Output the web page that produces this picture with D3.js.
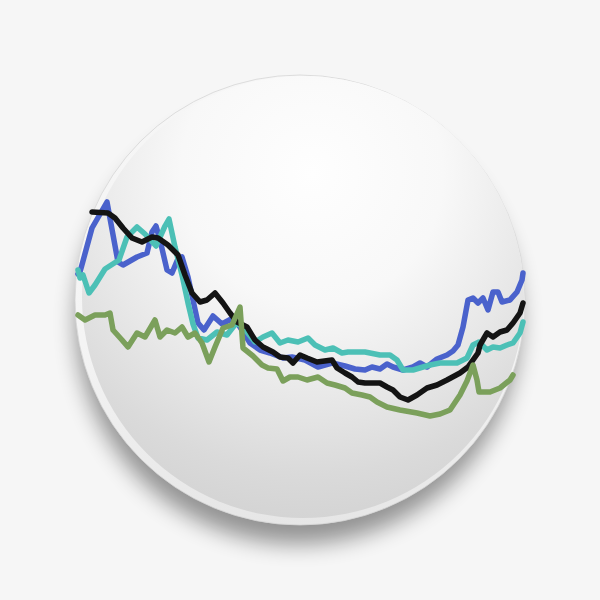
<!DOCTYPE html>
<html><head><meta charset="utf-8">
<script src="https://cdn.jsdelivr.net/npm/d3@7"></script>
<style>html,body{margin:0;padding:0;background:#f5f5f5;}svg{display:block;}</style>
</head><body>
<script>
// series values: [time, value]
const blue = [[0,156],[2,158],[14,202],[29,228],[40,168],[45,165],[59,173],[69,177],[74,198],[78,204],[82,190],[89,160],[94,157],[99,169],[104,173],[110,153],[115,130],[120,107],[126,100],[135,114],[144,106],[155,112],[162,103],[172,87],[182,80],[192,77],[205,72],[214,73],[227,70],[240,63],[254,67],[267,64],[277,61],[287,60],[294,63],[302,61],[309,66],[315,63],[325,60],[335,63],[342,67],[349,63],[359,71],[369,75],[375,79],[380,85],[385,103],[390,130],[395,132],[400,127],[405,132],[410,120],[415,138],[420,138],[424,128],[432,130],[439,138],[444,150],[445,157]];
const cyan = [[0,160],[2,152],[5,155],[11,137],[17,145],[27,161],[41,170],[49,193],[59,203],[67,196],[78,184],[87,204],[91,211],[97,183],[104,155],[110,127],[115,106],[120,92],[129,90],[139,98],[149,95],[159,108],[169,98],[177,88],[185,93],[194,97],[202,87],[210,90],[220,88],[230,92],[237,85],[247,80],[255,82],[264,77],[270,78],[287,78],[302,75],[312,75],[319,70],[325,60],[335,60],[345,63],[352,65],[362,67],[379,67],[389,72],[395,85],[401,88],[409,80],[415,83],[422,82],[429,85],[435,87],[442,97],[445,108]];
const black = [[14,218],[30,217],[37,212],[45,202],[54,192],[64,188],[74,193],[80,192],[90,185],[100,175],[107,155],[114,137],[122,128],[129,130],[137,137],[145,127],[152,117],[159,108],[169,103],[177,90],[185,83],[195,78],[202,73],[210,72],[215,67],[222,75],[229,72],[239,68],[254,70],[259,62],[267,57],[274,53],[280,48],[287,47],[302,47],[309,43],[315,40],[322,33],[330,30],[339,35],[349,42],[359,45],[369,50],[382,57],[390,63],[395,70],[400,77],[402,85],[409,97],[415,93],[422,98],[429,100],[435,107],[442,117],[445,127]];
const green = [[0,115],[7,110],[17,115],[27,115],[32,117],[35,100],[44,90],[50,83],[59,97],[67,93],[77,110],[82,93],[89,100],[97,97],[104,103],[110,93],[117,97],[124,87],[131,68],[137,83],[145,102],[154,105],[162,123],[165,82],[175,74],[184,65],[190,62],[199,61],[205,49],[212,53],[220,53],[229,50],[240,53],[249,47],[257,45],[267,42],[274,37],[284,35],[292,33],[299,28],[309,23],[322,20],[339,17],[352,14],[362,16],[372,20],[382,35],[389,49],[395,65],[399,50],[401,38],[412,38],[422,42],[432,50],[435,55]];
const seriesNames = ["blue","cyan","black","green"];
const seriesColors = ["#4a62cc","#4cc0b6","#141414","#7ba05b"];

const W = 600, H = 600;
const svg = d3.select("body").append("svg").attr("width", W).attr("height", H);
const defs = svg.append("defs");

const blur = defs.append("filter").attr("id","shadow").attr("x","-30%").attr("y","-30%").attr("width","160%").attr("height","160%");
blur.append("feGaussianBlur").attr("stdDeviation", 11);

const rimG = defs.append("linearGradient").attr("id","rim").attr("x1","0").attr("y1","0").attr("x2","0").attr("y2","1");
rimG.append("stop").attr("offset","0%").attr("stop-color","#f6f6f6");
rimG.append("stop").attr("offset","60%").attr("stop-color","#f4f4f4");
rimG.append("stop").attr("offset","100%").attr("stop-color","#e6e6e6");

const faceG = defs.append("radialGradient").attr("id","face").attr("cx","52%").attr("cy","22%").attr("r","85%");
faceG.append("stop").attr("offset","0%").attr("stop-color","#fefefe");
faceG.append("stop").attr("offset","35%").attr("stop-color","#f8f8f8");
faceG.append("stop").attr("offset","60%").attr("stop-color","#e8e8e8");
faceG.append("stop").attr("offset","80%").attr("stop-color","#dadada");
faceG.append("stop").attr("offset","100%").attr("stop-color","#d0d0d0");

svg.append("rect").attr("width", W).attr("height", H).attr("fill", "#f6f6f6");
svg.append("circle").attr("cx", 298).attr("cy", 322).attr("r", 222)
  .attr("fill", "#000").attr("opacity", 0.4).attr("filter", "url(#shadow)");
svg.append("circle").attr("cx", 300).attr("cy", 300).attr("r", 225).attr("fill", "url(#rim)")
  .attr("stroke", "#d6d6d6").attr("stroke-width", 0.8);
svg.append("circle").attr("cx", 303).attr("cy", 297).attr("r", 221).attr("fill", "url(#face)");

const x = d3.scaleLinear().domain([0, 445]).range([78, 523]);
const y = d3.scaleLinear().domain([0, 240]).range([430, 190]);
const line = d3.line().x(d => x(d[0])).y(d => y(d[1]));

const all = [blue, cyan, black, green];
svg.append("g").selectAll("path").data(all).join("path")
  .attr("d", line)
  .attr("fill", "none")
  .attr("stroke", (d, i) => seriesColors[i])
  .attr("stroke-width", 5.5)
  .attr("stroke-linejoin", "round")
  .attr("stroke-linecap", "round");
</script>
</body></html>
